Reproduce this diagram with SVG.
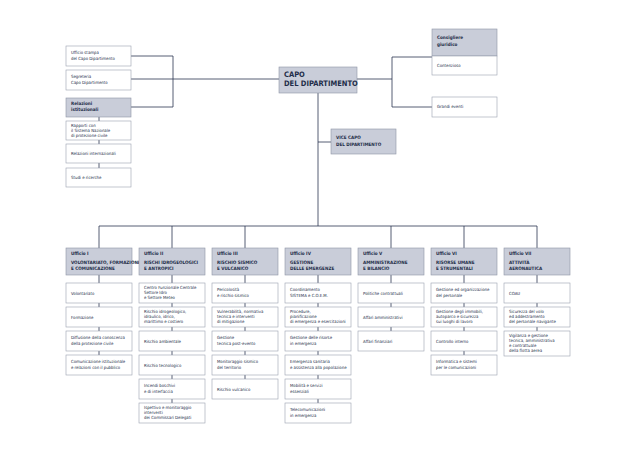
<svg xmlns="http://www.w3.org/2000/svg" width="637" height="450" viewBox="0 0 637 450">
<style>
.c{stroke:#2b3552;stroke-width:0.8;fill:none}
.b{fill:#fff;stroke:#9aa0b0;stroke-width:0.6}
.h{fill:#c9cdd9;stroke:#8e94a6;stroke-width:0.6}
text{font-family:"DejaVu Sans Condensed","Liberation Sans",sans-serif;fill:#222c48}
.t{font-size:4.3px}
.hb{font-size:4.6px;font-weight:bold}
.big{font-size:7.5px;font-weight:bold}
</style>
<rect width="637" height="450" fill="#fff"/>
<g id="connectors" class="c">
<path d="M131 56H173V107H131M131 79H279M99 117V168"/>
<path d="M357 79H392M432 57H392V107H432"/>
<path d="M318 93V226M318 142H331"/>
<path d="M99 226H537M99 226V248M172 226V248M245 226V248M391 226V248M464 226V248M537 226V248"/>
<path d="M99 275V355M172 275V403M245 275V379M318 248V403M391 275V331M464 275V355M537 275V331"/>
</g>
<g id="capo"><rect class="h" x="279" y="67" width="78" height="26"/><text class="big" x="284" y="77">CAPO</text><text class="big" x="284" y="86">DEL DIPARTIMENTO</text></g>
<g id="vicecapo"><rect class="h" x="331" y="129" width="65" height="25"/><text class="hb" x="336" y="139">VICE CAPO</text><text class="hb" x="336" y="146">DEL DIPARTIMENTO</text></g>
<g id="consigliere"><rect class="h" x="432" y="29" width="65" height="27"/><text class="hb" x="437" y="39" font-size="5.5">Consigliere</text><text class="hb" x="437" y="46" font-size="5.5">giuridico</text><rect class="b" x="432" y="56" width="65" height="19"/><text class="t" x="437" y="67">Contenzioso</text></g>
<g id="grandi"><rect class="b" x="432" y="97" width="65" height="20"/><text class="t" x="437" y="108">Grandi eventi</text></g>
<g id="left">
<rect class="b" x="66" y="46" width="65" height="20"/><text class="t" x="71" y="54">Ufficio stampa</text><text class="t" x="71" y="59.5">del Capo Dipartimento</text>
<rect class="b" x="66" y="70" width="65" height="20"/><text class="t" x="71" y="78">Segreteria</text><text class="t" x="71" y="83.5">Capo Dipartimento</text>
<rect class="h" x="66" y="98" width="65" height="19"/><text class="hb" x="71" y="105">Relazioni</text><text class="hb" x="71" y="110.5">istituzionali</text>
<rect class="b" x="66" y="121" width="65" height="19"/><text class="t" x="71" y="126.5">Rapporti con</text><text class="t" x="71" y="131.5">il Sistema Nazionale</text><text class="t" x="71" y="136.5">di protezione civile</text>
<rect class="b" x="66" y="144" width="65" height="19"/><text class="t" x="71" y="155">Relazioni internazionali</text>
<rect class="b" x="66" y="168" width="65" height="19"/><text class="t" x="71" y="179">Studi e ricerche</text>
</g>
<g id="uff1">
<rect class="h" x="66" y="248" width="66" height="27"/><text class="hb" x="71" y="255">Ufficio I</text><text class="hb" x="71" y="264">VOLONTARIATO, FORMAZIONE</text><text class="hb" x="71" y="269.5">E COMUNICAZIONE</text>
<rect class="b" x="66" y="283" width="66" height="20"/><text class="t" x="71" y="294.5">Volontariato</text>
<rect class="b" x="66" y="307" width="66" height="20"/><text class="t" x="71" y="318.5">Formazione</text>
<rect class="b" x="66" y="331" width="66" height="20"/><text class="t" x="71" y="339">Diffusione della conoscenza</text><text class="t" x="71" y="344.5">della protezione civile</text>
<rect class="b" x="66" y="355" width="66" height="20"/><text class="t" x="71" y="363">Comunicazione istituzionale</text><text class="t" x="71" y="368.5">e relazioni con il pubblico</text>
</g>
<g id="uff2">
<rect class="h" x="139" y="248" width="66" height="27"/><text class="hb" x="144" y="255">Ufficio II</text><text class="hb" x="144" y="264">RISCHI IDROGEOLOGICI</text><text class="hb" x="144" y="269.5">E ANTROPICI</text>
<rect class="b" x="139" y="283" width="66" height="20"/><text class="t" x="144" y="288.5">Centro Funzionale Centrale</text><text class="t" x="144" y="293.5">Settore Idro</text><text class="t" x="144" y="298.5">e Settore Meteo</text>
<rect class="b" x="139" y="307" width="66" height="20"/><text class="t" x="144" y="312.5">Rischio idrogeologico,</text><text class="t" x="144" y="317.5">idraulico, idrico,</text><text class="t" x="144" y="322.5">marittimo e costiero</text>
<rect class="b" x="139" y="331" width="66" height="20"/><text class="t" x="144" y="342.5">Rischio ambientale</text>
<rect class="b" x="139" y="355" width="66" height="20"/><text class="t" x="144" y="366.5">Rischio tecnologico</text>
<rect class="b" x="139" y="379" width="66" height="20"/><text class="t" x="144" y="387">Incendi boschivi</text><text class="t" x="144" y="392.5">e di interfaccia</text>
<rect class="b" x="139" y="403" width="66" height="20"/><text class="t" x="144" y="408.5">Ispettivo e monitoraggio</text><text class="t" x="144" y="413.5">interventi</text><text class="t" x="144" y="418.5">dei Commissari Delegati</text>
</g>
<g id="uff3">
<rect class="h" x="212" y="248" width="66" height="27"/><text class="hb" x="217" y="255">Ufficio III</text><text class="hb" x="217" y="264">RISCHIO SISMICO</text><text class="hb" x="217" y="269.5">E VULCANICO</text>
<rect class="b" x="212" y="283" width="66" height="20"/><text class="t" x="217" y="291">Pericolosità</text><text class="t" x="217" y="296.5">e rischio sismico</text>
<rect class="b" x="212" y="307" width="66" height="20"/><text class="t" x="217" y="312.5">Vulnerabilità, normativa</text><text class="t" x="217" y="317.5">tecnica e interventi</text><text class="t" x="217" y="322.5">di mitigazione</text>
<rect class="b" x="212" y="331" width="66" height="20"/><text class="t" x="217" y="339">Gestione</text><text class="t" x="217" y="344.5">tecnica post-evento</text>
<rect class="b" x="212" y="355" width="66" height="20"/><text class="t" x="217" y="363">Monitoraggio sismico</text><text class="t" x="217" y="368.5">del territorio</text>
<rect class="b" x="212" y="379" width="66" height="20"/><text class="t" x="217" y="390.5">Rischio vulcanico</text>
</g>
<g id="uff4">
<rect class="h" x="285" y="248" width="66" height="27"/><text class="hb" x="290" y="255">Ufficio IV</text><text class="hb" x="290" y="264">GESTIONE</text><text class="hb" x="290" y="269.5">DELLE EMERGENZE</text>
<rect class="b" x="285" y="283" width="66" height="20"/><text class="t" x="290" y="291">Coordinamento</text><text class="t" x="290" y="296.5">SISTEMA e C.O.E.M.</text>
<rect class="b" x="285" y="307" width="66" height="20"/><text class="t" x="290" y="312.5">Procedure,</text><text class="t" x="290" y="317.5">pianificazione</text><text class="t" x="290" y="322.5">di emergenza e esercitazioni</text>
<rect class="b" x="285" y="331" width="66" height="20"/><text class="t" x="290" y="339">Gestione delle risorse</text><text class="t" x="290" y="344.5">in emergenza</text>
<rect class="b" x="285" y="355" width="66" height="20"/><text class="t" x="290" y="363">Emergenza sanitaria</text><text class="t" x="290" y="368.5">e assistenza alla popolazione</text>
<rect class="b" x="285" y="379" width="66" height="20"/><text class="t" x="290" y="387">Mobilità e servizi</text><text class="t" x="290" y="392.5">essenziali</text>
<rect class="b" x="285" y="403" width="66" height="20"/><text class="t" x="290" y="411">Telecomunicazioni</text><text class="t" x="290" y="416.5">in emergenza</text>
</g>
<g id="uff5">
<rect class="h" x="358" y="248" width="66" height="27"/><text class="hb" x="363" y="255">Ufficio V</text><text class="hb" x="363" y="264">AMMINISTRAZIONE</text><text class="hb" x="363" y="269.5">E BILANCIO</text>
<rect class="b" x="358" y="283" width="66" height="20"/><text class="t" x="363" y="294.5">Politiche contrattuali</text>
<rect class="b" x="358" y="307" width="66" height="20"/><text class="t" x="363" y="318.5">Affari amministrativi</text>
<rect class="b" x="358" y="331" width="66" height="20"/><text class="t" x="363" y="342.5">Affari finanziari</text>
</g>
<g id="uff6">
<rect class="h" x="431" y="248" width="66" height="27"/><text class="hb" x="436" y="255">Ufficio VI</text><text class="hb" x="436" y="264">RISORSE UMANE</text><text class="hb" x="436" y="269.5">E STRUMENTALI</text>
<rect class="b" x="431" y="283" width="66" height="20"/><text class="t" x="436" y="291">Gestione ed organizzazione</text><text class="t" x="436" y="296.5">del personale</text>
<rect class="b" x="431" y="307" width="66" height="20"/><text class="t" x="436" y="312.5">Gestione degli immobili,</text><text class="t" x="436" y="317.5">autoparco e sicurezza</text><text class="t" x="436" y="322.5">sui luoghi di lavoro</text>
<rect class="b" x="431" y="331" width="66" height="20"/><text class="t" x="436" y="342.5">Controllo interno</text>
<rect class="b" x="431" y="355" width="66" height="20"/><text class="t" x="436" y="363">Informatica e sistemi</text><text class="t" x="436" y="368.5">per le comunicazioni</text>
</g>
<g id="uff7">
<rect class="h" x="504" y="248" width="66" height="27"/><text class="hb" x="509" y="255">Ufficio VII</text><text class="hb" x="509" y="264">ATTIVITÀ</text><text class="hb" x="509" y="269.5">AERONAUTICA</text>
<rect class="b" x="504" y="283" width="66" height="20"/><text class="t" x="509" y="294.5">COAU</text>
<rect class="b" x="504" y="307" width="66" height="20"/><text class="t" x="509" y="312.5">Sicurezza del volo</text><text class="t" x="509" y="317.5">ed addestramento</text><text class="t" x="509" y="322.5">del personale navigante</text>
<rect class="b" x="504" y="331" width="66" height="25"/><text class="t" x="509" y="337">Vigilanza e gestione</text><text class="t" x="509" y="342">tecnica, amministrativa</text><text class="t" x="509" y="347">e contrattuale</text><text class="t" x="509" y="352">della flotta aerea</text>
</g>
</svg>
